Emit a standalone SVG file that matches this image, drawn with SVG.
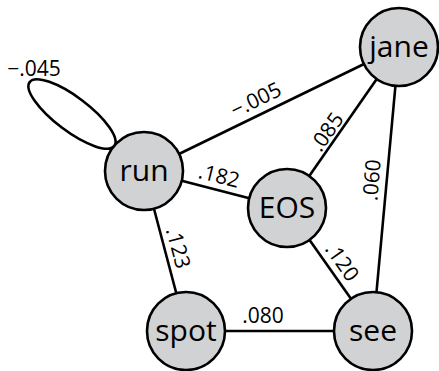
<svg xmlns="http://www.w3.org/2000/svg" width="439" height="371" viewBox="0 0 439 371">
  <style>
    .edge { stroke: #000; stroke-width: 2.6; fill: none; }
    .node circle { fill: #d1d2d4; stroke: #000; stroke-width: 2.6; }
    .node text { font-family: "Open Sans", "Liberation Sans", sans-serif; font-size: 30px; text-anchor: middle; fill: #000; }
    .lbl { font-family: "Open Sans", "Liberation Sans", sans-serif; font-size: 21px; text-anchor: middle; fill: #000; }
  </style>
  <rect width="439" height="371" fill="#fff"/>

  <g id="connectors">
    <ellipse class="edge" cx="72" cy="114" rx="53" ry="17" transform="rotate(37 72 114)"/>
    <line class="edge" x1="144" y1="171" x2="399" y2="47"/>
    <line class="edge" x1="144" y1="171" x2="287" y2="208"/>
    <line class="edge" x1="287" y1="208" x2="399" y2="47"/>
    <line class="edge" x1="399" y1="47" x2="373" y2="330"/>
    <line class="edge" x1="287" y1="208" x2="373" y2="330"/>
    <line class="edge" x1="144" y1="171" x2="186" y2="330"/>
    <line class="edge" x1="186" y1="331" x2="373" y2="331"/>

    <text class="lbl" x="34" y="76">−.045</text>
    <text class="lbl" transform="translate(256 100) rotate(-26)" y="7">−.005</text>
    <text class="lbl" transform="translate(219 176) rotate(14)" y="7">.182</text>
    <text class="lbl" transform="translate(327 132) rotate(-55)" y="7">.085</text>
    <text class="lbl" transform="translate(372 180) rotate(-85)" y="7">.060</text>
    <text class="lbl" transform="translate(342 262) rotate(55)" y="7">.120</text>
    <text class="lbl" transform="translate(178 248) rotate(75)" y="7">.123</text>
    <text class="lbl" x="263" y="323">.080</text>
  </g>

  <g id="node-jane" class="node"><circle cx="399" cy="47" r="39"/><text x="399" y="57">jane</text></g>
  <g id="node-run" class="node"><circle cx="144" cy="171" r="39"/><text x="144" y="181">run</text></g>
  <g id="node-EOS" class="node"><circle cx="287" cy="208" r="39"/><text x="287" y="218">EOS</text></g>
  <g id="node-spot" class="node"><circle cx="186" cy="331" r="39"/><text x="186" y="341">spot</text></g>
  <g id="node-see" class="node"><circle cx="373" cy="331" r="39"/><text x="373" y="341">see</text></g>
</svg>
